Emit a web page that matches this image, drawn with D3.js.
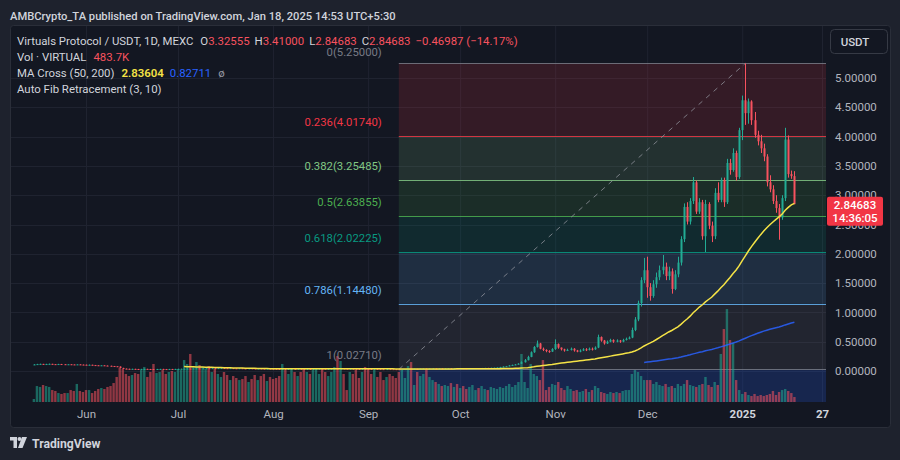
<!DOCTYPE html>
<html>
<head>
<meta charset="utf-8">
<script src="https://cdn.jsdelivr.net/npm/d3@7"></script>
<style>
  body { margin: 0; background: #1e222d; }
  svg { display: block; font-family: Roboto, "Liberation Sans", sans-serif; }
</style>
</head>
<body>
<svg id="chart" width="900" height="460"></svg>
<script>
// Tageskerzen VIRTUAL/USDT ab 15.05.2024 (Index 0) bis 18.01.2025
const startDay = Date.UTC(2024, 4, 15)

const closes = [
  // Mai
  0.112, 0.118, 0.121, 0.116, 0.119, 0.122, 0.117, 0.115, 0.119, 0.116, 0.113, 0.115, 0.112, 0.110, 0.113, 0.109, 0.107,
  // Jun
  0.104, 0.106, 0.101, 0.098, 0.095, 0.097, 0.092, 0.089, 0.085, 0.081, 0.076, 0.052, 0.040, 0.037, 0.035, 0.036, 0.034,
  0.033, 0.035, 0.036, 0.034, 0.033, 0.032, 0.034, 0.035, 0.033, 0.032, 0.034, 0.033, 0.035,
  // Jul
  0.036, 0.037, 0.039, 0.041, 0.040, 0.042, 0.044, 0.043, 0.045, 0.047, 0.046, 0.048, 0.047, 0.049, 0.050, 0.048,
  0.047, 0.049, 0.046, 0.045, 0.047, 0.044, 0.043, 0.045, 0.042, 0.041, 0.043, 0.040, 0.039, 0.041, 0.038,
  // Aug
  0.037, 0.035, 0.033, 0.034, 0.032, 0.034, 0.036, 0.035, 0.037, 0.036, 0.034, 0.035, 0.033, 0.034, 0.036, 0.038,
  0.037, 0.035, 0.036, 0.038, 0.040, 0.039, 0.041, 0.039, 0.037, 0.038, 0.036, 0.035, 0.034, 0.036, 0.035,
  // Sep
  0.034, 0.033, 0.035, 0.033, 0.032, 0.031, 0.033, 0.032, 0.031, 0.030, 0.029, 0.031, 0.032, 0.034, 0.033, 0.035,
  0.034, 0.036, 0.038, 0.037, 0.039, 0.041, 0.040, 0.042, 0.041, 0.043, 0.045, 0.044, 0.046, 0.045,
  // Okt
  0.047, 0.046, 0.044, 0.045, 0.047, 0.049, 0.048, 0.050, 0.052, 0.051, 0.054, 0.056, 0.060,
  0.068, 0.075, 0.082, 0.095, 0.104, 0.112, 0.125,
  0.150, 0.185, 0.240, 0.320, 0.410, 0.470, 0.380, 0.360, 0.340, 0.330, 0.375,
  // Nov
  0.46, 0.40, 0.37, 0.35, 0.36, 0.38, 0.35, 0.33, 0.35, 0.37, 0.36, 0.38, 0.37, 0.40, 0.58,
  0.52, 0.47, 0.50, 0.53, 0.50, 0.52, 0.50, 0.53, 0.55, 0.57, 0.70, 0.88, 1.16, 1.55, 1.72,
  // Dez
  1.43, 1.28, 1.48, 1.60, 1.72, 1.78, 1.62, 1.70, 1.40, 1.65, 1.85, 2.25, 2.80, 2.55, 2.90, 3.22,
  2.72, 2.88, 2.30, 2.85, 2.48, 2.30, 3.04, 2.92, 3.26, 2.88, 3.55, 3.43, 3.72, 3.31, 4.11,
  // Jan
  4.62, 4.40, 4.60, 4.28, 4.03, 3.92, 3.80, 3.66, 3.22, 3.10, 2.90, 2.78, 2.62, 2.95, 3.95, 3.36, 3.32555, 2.84683
]

const highs = [
  0.118, 0.122, 0.125, 0.122, 0.123, 0.126, 0.123, 0.119, 0.122, 0.121, 0.118, 0.118, 0.117, 0.114, 0.116, 0.115, 0.111,
  0.109, 0.110, 0.107, 0.103, 0.100, 0.100, 0.098, 0.094, 0.090, 0.086, 0.082, 0.078, 0.055, 0.042, 0.039, 0.039, 0.038,
  0.036, 0.037, 0.038, 0.038, 0.036, 0.035, 0.036, 0.037, 0.037, 0.035, 0.036, 0.036, 0.037,
  0.039, 0.039, 0.041, 0.043, 0.043, 0.044, 0.046, 0.046, 0.047, 0.049, 0.049, 0.050, 0.050, 0.051, 0.052, 0.052,
  0.050, 0.051, 0.050, 0.048, 0.049, 0.048, 0.046, 0.047, 0.046, 0.044, 0.045, 0.044, 0.042, 0.043, 0.042,
  0.040, 0.038, 0.036, 0.036, 0.035, 0.036, 0.038, 0.038, 0.039, 0.039, 0.037, 0.037, 0.036, 0.036, 0.038, 0.040,
  0.040, 0.038, 0.038, 0.040, 0.042, 0.042, 0.043, 0.042, 0.040, 0.040, 0.039, 0.037, 0.036, 0.038, 0.037,
  0.037, 0.035, 0.036, 0.036, 0.034, 0.033, 0.034, 0.034, 0.033, 0.032, 0.031, 0.033, 0.034, 0.036, 0.035, 0.037,
  0.036, 0.038, 0.040, 0.040, 0.041, 0.043, 0.043, 0.044, 0.044, 0.045, 0.047, 0.047, 0.048, 0.048,
  0.049, 0.049, 0.047, 0.047, 0.049, 0.051, 0.051, 0.052, 0.054, 0.054, 0.056, 0.058, 0.063,
  0.071, 0.079, 0.086, 0.099, 0.109, 0.118, 0.132,
  0.165, 0.205, 0.260, 0.335, 0.425, 0.520, 0.480, 0.400, 0.370, 0.355, 0.390,
  0.54, 0.47, 0.40, 0.38, 0.38, 0.40, 0.39, 0.36, 0.37, 0.39, 0.39, 0.40, 0.40, 0.42, 0.62,
  0.59, 0.53, 0.52, 0.55, 0.54, 0.54, 0.53, 0.55, 0.57, 0.59, 0.74, 0.92, 1.20, 1.60, 1.93,
  1.95, 1.50, 1.55, 1.68, 1.80, 1.98, 1.85, 1.78, 1.75, 1.72, 1.95, 2.30, 2.86, 2.88, 2.95, 3.31,
  3.25, 2.95, 2.92, 2.92, 2.88, 2.55, 3.12, 3.22, 3.30, 3.30, 3.62, 3.62, 3.80, 3.76, 4.15,
  4.70, 5.25, 4.65, 4.62, 4.42, 4.10, 4.03, 3.88, 3.70, 3.34, 3.17, 3.00, 2.85, 3.00, 4.15, 4.02, 3.42, 3.41
]

const lows = [
  0.106, 0.110, 0.115, 0.113, 0.114, 0.116, 0.114, 0.112, 0.113, 0.113, 0.110, 0.111, 0.109, 0.107, 0.108, 0.106, 0.104,
  0.101, 0.102, 0.099, 0.096, 0.093, 0.093, 0.090, 0.086, 0.082, 0.078, 0.073, 0.049, 0.037, 0.034, 0.033, 0.033, 0.032,
  0.031, 0.032, 0.033, 0.032, 0.031, 0.030, 0.031, 0.033, 0.031, 0.030, 0.031, 0.031, 0.032,
  0.033, 0.034, 0.036, 0.038, 0.038, 0.039, 0.041, 0.041, 0.042, 0.044, 0.044, 0.045, 0.045, 0.046, 0.047, 0.046,
  0.045, 0.046, 0.044, 0.043, 0.044, 0.042, 0.041, 0.042, 0.040, 0.039, 0.040, 0.038, 0.037, 0.038, 0.036,
  0.035, 0.033, 0.031, 0.031, 0.030, 0.031, 0.033, 0.033, 0.034, 0.034, 0.032, 0.033, 0.031, 0.032, 0.033, 0.035,
  0.035, 0.033, 0.034, 0.035, 0.037, 0.037, 0.038, 0.037, 0.035, 0.036, 0.034, 0.033, 0.032, 0.033, 0.033,
  0.032, 0.031, 0.032, 0.031, 0.030, 0.029, 0.030, 0.030, 0.029, 0.0285, 0.0271, 0.029, 0.030, 0.031, 0.031, 0.032,
  0.032, 0.033, 0.035, 0.035, 0.036, 0.038, 0.038, 0.039, 0.039, 0.040, 0.042, 0.042, 0.043, 0.043,
  0.044, 0.044, 0.042, 0.043, 0.044, 0.046, 0.046, 0.047, 0.049, 0.049, 0.050, 0.053, 0.055,
  0.058, 0.066, 0.073, 0.080, 0.092, 0.100, 0.110,
  0.120, 0.145, 0.180, 0.235, 0.310, 0.400, 0.370, 0.340, 0.320, 0.310, 0.325,
  0.36, 0.38, 0.35, 0.33, 0.34, 0.35, 0.33, 0.32, 0.32, 0.34, 0.34, 0.35, 0.35, 0.36, 0.39,
  0.50, 0.45, 0.46, 0.49, 0.48, 0.49, 0.48, 0.49, 0.52, 0.54, 0.56, 0.68, 0.85, 1.10, 1.50,
  1.25, 1.20, 1.25, 1.42, 1.55, 1.65, 1.55, 1.55, 1.32, 1.38, 1.60, 1.80, 2.20, 2.50, 2.50, 2.85,
  2.68, 2.68, 2.24, 2.03, 2.42, 2.20, 2.25, 2.88, 2.88, 2.80, 2.85, 3.35, 3.40, 3.25, 3.28,
  3.94, 4.20, 4.22, 4.20, 3.98, 3.85, 3.72, 3.58, 3.15, 3.05, 2.85, 2.70, 2.24, 2.58, 2.90, 3.30, 3.28, 2.84683
]

// Volumen in Tausend (K)
const volumes = [
  290, 1550, 1460, 1650, 1550, 1460, 1160, 1070, 870, 780, 870, 870, 1160, 1070, 1750, 1070, 970,
  1160, 1160, 870, 1070, 1260, 1360, 1260, 1460, 1550, 1840, 2430,
  3300, 3200, 2720, 2520, 2620, 2810, 2720, 3100, 3400, 2430, 2910, 3690, 2810, 2910, 3100, 2720, 2910, 3010, 2910,
  3200, 3100, 4070, 3690, 4660, 3490, 3880, 3590, 3400, 3200, 3490, 2910, 3200, 2720, 2430, 2910,
  2620, 2130, 2520, 2330, 2130, 2230, 2520, 1940, 2230, 2620, 2130, 2520, 2720, 2040, 2430,
  2230, 2330, 2520, 3690, 3100, 2720, 3300, 2910, 2520, 2910, 3300, 2910, 2720, 3100, 3300, 2720,
  3200, 2910, 2520, 2910, 3400, 4460, 3980, 2720, 1160, 2910, 2720, 3100, 2330, 2910, 3400,
  3300, 2720, 3100, 2430, 2910, 2130, 2430, 2720, 2520, 2330, 2910, 3100, 2330, 3490, 3880,
  1650, 2910, 2520, 2720, 3100, 2430, 2130, 1940, 1750, 1550, 1650, 1550, 1840, 1460, 1750,
  1360, 1550, 1260, 1460, 1650, 1160, 1360, 1550, 1260, 1160, 1460, 1360, 1260,
  1460, 1360, 1550, 1750, 1460, 1650, 1940,
  4660, 1940, 1360, 3690, 2720, 2520, 2130, 4070, 1160, 1460, 1750,
  1650, 1940, 1360, 1160, 1550, 1260, 1070, 1160, 970, 1070, 1260, 970, 1160, 1550, 1360,
  970, 870, 780, 970, 870, 970, 870, 1070, 1160, 1160, 2720, 3100, 2910, 2520, 2130,
  2130, 2130, 1750, 1940, 1650, 1550, 1750, 1460, 1550, 1360, 1750, 1550, 1750, 2130, 1650, 1550,
  1460, 1650, 1750, 2430, 1650, 1460, 1940, 1650, 4660, 7080, 9020, 6010, 5720, 2130, 1160,
  780, 970, 680, 580, 780, 580, 680, 580, 680, 780, 1070, 680, 970, 1160, 1260, 1070, 870, 483.7
]
const firstOpen = 0.108

// Fib-Level (Auto Fib Retracement)
const fibRatios = [0, 0.236, 0.382, 0.5, 0.618, 0.786, 1, 1.618]
const fibPrices = [5.25, 4.0174, 3.25485, 2.63855, 2.02225, 1.1448, 0.0271, -3.20066]
const fibColors = ["#787b86", "#f23645", "#81c784", "#4caf50", "#089981", "#64b5f6", "#787b86", "#2962ff"]
const fibFrom = Date.UTC(2024, 8, 11)
const fibTo = Date.UTC(2025, 0, 2)

const priceTicks = [0, 0.5, 1, 1.5, 2, 2.5, 3, 3.5, 4, 4.5, 5]
const timeTicks = [Date.UTC(2024, 5, 1), Date.UTC(2024, 6, 1), Date.UTC(2024, 7, 1), Date.UTC(2024, 8, 1),
  Date.UTC(2024, 9, 1), Date.UTC(2024, 10, 1), Date.UTC(2024, 11, 1), Date.UTC(2025, 0, 1), Date.UTC(2025, 0, 27)]
const timeLabels = ["Jun", "Jul", "Aug", "Sep", "Oct", "Nov", "Dec", "2025", "27"]

const upColor = "#22ab94"
const downColor = "#f7525f"

// Bereiche
const plotL = 10, plotR = 826, plotT = 25, plotB = 402
const dayMs = 86400000

const x = d3.scaleUtc().domain([Date.UTC(2024, 5, 1), Date.UTC(2025, 0, 27)]).range([86, 822])
const y = d3.scaleLinear().domain([0, 5]).range([371, 78])
const yVol = d3.scaleLinear().domain([0, 9120]).range([plotB, plotB - 94])

const candles = closes.map((c, i) => ({
  date: startDay + i * dayMs,
  open: i == 0 ? firstOpen : closes[i - 1],
  high: highs[i],
  low: lows[i],
  close: c,
  vol: volumes[i]
}))

function movingAvg(n) {
  const out = []
  for (let i = n - 1; i < closes.length; i++) {
    out.push({ date: candles[i].date, v: d3.mean(closes.slice(i - n + 1, i + 1)) })
  }
  return out
}
const ma50 = movingAvg(50)
const ma200 = movingAvg(200)

const svg = d3.select("#chart")

// Panel
svg.append("rect")
  .attr("x", plotL + 0.5).attr("y", plotT + 0.5)
  .attr("width", 880).attr("height", 402)
  .attr("rx", 3)
  .attr("fill", "#131722")
  .attr("stroke", "#2a2e39")

svg.append("clipPath").attr("id", "plotclip")
  .append("rect")
  .attr("x", plotL + 1).attr("y", plotT + 1)
  .attr("width", plotR - plotL - 1).attr("height", plotB - plotT - 1)

const plot = svg.append("g").attr("clip-path", "url(#plotclip)")

// Raster
plot.append("g").selectAll("line")
  .data(timeTicks)
  .enter().append("line")
  .attr("x1", d => x(d) + 0.5).attr("x2", d => x(d) + 0.5)
  .attr("y1", plotT).attr("y2", plotB)
  .attr("stroke", "#1f2330")
plot.append("g").selectAll("line")
  .data(priceTicks)
  .enter().append("line")
  .attr("x1", plotL).attr("x2", plotR)
  .attr("y1", d => Math.round(y(d)) + 0.5).attr("y2", d => Math.round(y(d)) + 0.5)
  .attr("stroke", "#1f2330")

// Fib-Flaechen und Linien
const fibX0 = x(fibFrom)
const fibBands = fibPrices.slice(1).map((p, i) => ({ top: fibPrices[i], bottom: p, color: fibColors[i + 1] }))
plot.append("g").selectAll("rect")
  .data(fibBands)
  .enter().append("rect")
  .attr("x", fibX0).attr("width", plotR - fibX0)
  .attr("y", d => y(d.top)).attr("height", d => y(d.bottom) - y(d.top))
  .attr("fill", d => d.color)
  .attr("fill-opacity", (d, i) => i == 6 ? 0.2 : 0.15)

plot.append("g").selectAll("line")
  .data(fibPrices.slice(0, 7))
  .enter().append("line")
  .attr("x1", fibX0).attr("x2", plotR)
  .attr("y1", d => Math.round(y(d)) + 0.5).attr("y2", d => Math.round(y(d)) + 0.5)
  .attr("stroke", (d, i) => fibColors[i])
  .attr("stroke-opacity", 0.85)

// Trendlinie Tief -> Hoch
plot.append("line")
  .attr("x1", fibX0).attr("y1", y(fibPrices[6]))
  .attr("x2", x(fibTo)).attr("y2", y(fibPrices[0]))
  .attr("stroke", "#9598a1")
  .attr("stroke-opacity", 0.75)
  .attr("stroke-dasharray", "5,5")

// Volumen
plot.append("g").selectAll("rect")
  .data(candles)
  .enter().append("rect")
  .attr("x", d => x(d.date) - 1.2)
  .attr("width", 2.4)
  .attr("y", d => yVol(d.vol))
  .attr("height", d => plotB - yVol(d.vol))
  .attr("fill", d => d.close >= d.open ? upColor : downColor)
  .attr("fill-opacity", 0.55)

// Kerzen
const cg = plot.append("g")
cg.selectAll("line")
  .data(candles)
  .enter().append("line")
  .attr("x1", d => Math.round(x(d.date)) + 0.5).attr("x2", d => Math.round(x(d.date)) + 0.5)
  .attr("y1", d => y(d.high)).attr("y2", d => y(d.low))
  .attr("stroke", d => d.close >= d.open ? upColor : downColor)
cg.selectAll("rect")
  .data(candles)
  .enter().append("rect")
  .attr("x", d => Math.round(x(d.date)) - 0.5)
  .attr("width", 2)
  .attr("y", d => y(Math.max(d.open, d.close)))
  .attr("height", d => Math.max(1, Math.abs(y(d.open) - y(d.close))))
  .attr("fill", d => d.close >= d.open ? upColor : downColor)

// Gleitende Durchschnitte
const maLine = d3.line().x(d => x(d.date)).y(d => y(d.v))
plot.append("path").datum(ma200)
  .attr("d", maLine).attr("fill", "none")
  .attr("stroke", "#2962ff").attr("stroke-width", 1.5).attr("stroke-opacity", 0.85)
plot.append("path").datum(ma50)
  .attr("d", maLine).attr("fill", "none")
  .attr("stroke", "#f5e346").attr("stroke-width", 1.5)

// Fib-Beschriftung
svg.append("g").selectAll("text")
  .data(fibPrices.slice(0, 7))
  .enter().append("text")
  .attr("x", fibX0 - 17)
  .attr("y", (d, i) => y(d) - (i == 0 ? 7 : 10))
  .attr("text-anchor", "end")
  .attr("font-size", 11.3)
  .attr("fill", (d, i) => fibColors[i])
  .text((d, i) => fibRatios[i] + "(" + d.toFixed(5) + ")")

// Preisachse
const yAxis = svg.append("g")
  .attr("transform", "translate(" + plotR + ",0)")
  .call(d3.axisRight(y).tickValues(priceTicks).tickFormat(d => d.toFixed(5)).tickSize(0))
yAxis.select(".domain").remove()
yAxis.selectAll("text")
  .attr("x", 9)
  .attr("fill", "#b2b5be")
  .attr("font-size", 11.5)
  .attr("font-family", "Roboto, sans-serif")

// Zeitachse
const xAxis = svg.append("g")
  .attr("transform", "translate(0," + plotB + ")")
  .call(d3.axisBottom(x).tickValues(timeTicks).tickFormat((d, i) => timeLabels[i]).tickSize(0))
xAxis.select(".domain").remove()
xAxis.selectAll("text")
  .attr("y", 8)
  .attr("font-size", 11.5)
  .attr("font-family", "Roboto, sans-serif")
  .attr("font-weight", (d, i) => i >= 7 ? 700 : 400)
  .attr("fill", (d, i) => i >= 7 ? "#d1d4dc" : "#b2b5be")

// Aktueller Kurs: Box liegt wie im Original ueber den Achsenwerten
const last = candles[candles.length - 1]
const lastY = y(last.close)
svg.append("rect")
  .attr("x", 827).attr("y", lastY - 7.5)
  .attr("width", 56).attr("height", 29)
  .attr("rx", 2)
  .attr("fill", "#f23645")
svg.append("text")
  .attr("x", 855).attr("y", lastY + 4.5)
  .attr("text-anchor", "middle").attr("font-size", 11.5).attr("font-weight", 500)
  .attr("fill", "#ffffff")
  .text(last.close.toFixed(5))
svg.append("text")
  .attr("x", 855).attr("y", lastY + 18)
  .attr("text-anchor", "middle").attr("font-size", 11.5).attr("font-weight", 500)
  .attr("fill", "#ffffff")
  .text("14:36:05")

// USDT Knopf
svg.append("rect")
  .attr("x", 830.5).attr("y", 29.5)
  .attr("width", 57).attr("height", 24)
  .attr("rx", 4)
  .attr("fill", "#131722").attr("stroke", "#363a45")
svg.append("text")
  .attr("x", 855).attr("y", 45.5)
  .attr("text-anchor", "middle").attr("font-size", 11.5).attr("font-weight", 500)
  .attr("fill", "#d1d4dc")
  .text("USDT")

// Kopfzeile
svg.append("text")
  .attr("x", 10).attr("y", 19.5)
  .attr("font-size", 11.2).attr("font-weight", 500)
  .attr("fill", "#d1d4dc")
  .text("AMBCrypto_TA published on TradingView.com, Jan 18, 2025 14:53 UTC+5:30")

// Legende
const legend = svg.append("g").attr("font-size", 11.4).attr("fill", "#d1d4dc")
const row1 = legend.append("text").attr("x", 17).attr("y", 45)
row1.append("tspan").text("Virtuals Protocol / USDT, 1D, MEXC")
const ohlc = [["O", last.open], ["H", last.high], ["L", last.low], ["C", last.close]]
ohlc.forEach((p, i) => {
  row1.append("tspan").attr("dx", i == 0 ? 7 : 5).text(p[0])
  row1.append("tspan").attr("fill", downColor).text(p[1].toFixed(5))
})
row1.append("tspan").attr("dx", 5).attr("fill", downColor)
  .text("\u22120.46987 (\u221214.17%)")

const row2 = legend.append("text").attr("x", 17).attr("y", 61)
row2.append("tspan").text("Vol \u00b7 VIRTUAL")
row2.append("tspan").attr("dx", 7).attr("fill", downColor).text(last.vol.toFixed(1) + "K")

const row3 = legend.append("text").attr("x", 17).attr("y", 77)
row3.append("tspan").text("MA Cross (50, 200)")
row3.append("tspan").attr("dx", 7).attr("fill", "#f5e346").attr("font-weight", 600).text("2.83604")
row3.append("tspan").attr("dx", 6).attr("fill", "#2962ff").text("0.82711")
row3.append("tspan").attr("dx", 7).attr("fill", "#9598a1").text("\u00f8")

legend.append("text").attr("x", 17).attr("y", 93).text("Auto Fib Retracement (3, 10)")

// Fusszeile mit Logo
const logo = svg.append("g").attr("transform", "translate(10,437)").attr("fill", "#d1d4dc")
logo.append("path").attr("d", "M0,0 H7 V11 H3.5 V3.5 H0 Z")
logo.append("circle").attr("cx", 9.5).attr("cy", 2).attr("r", 2)
logo.append("path").attr("d", "M12,0 H17 L12.5,11 H8 Z")
svg.append("text")
  .attr("x", 32).attr("y", 448)
  .attr("font-size", 12.2).attr("font-weight", 700)
  .attr("fill", "#d1d4dc")
  .text("TradingView")
</script>
</body>
</html>
